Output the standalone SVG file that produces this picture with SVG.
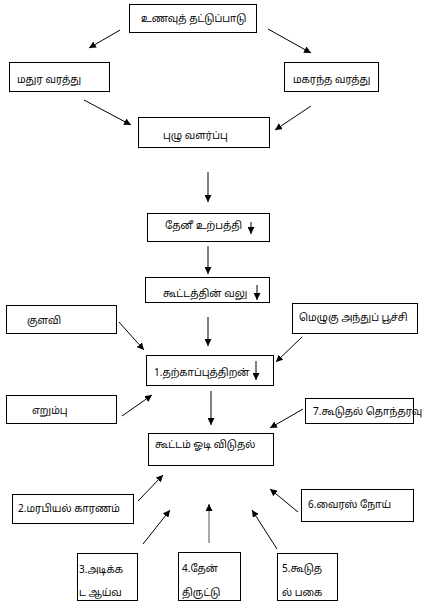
<svg xmlns="http://www.w3.org/2000/svg" width="429" height="608" viewBox="0 0 429 608">
<style>
.box{fill:#fff;stroke:#000;stroke-width:1}
.t{font-family:"Noto Sans Tamil","Latha","Lohit Tamil","Noto Sans",sans-serif;font-size:10px;fill:#000}
.c line{stroke:#000;stroke-width:1;marker-end:url(#ah)}
</style>
<defs>
<marker id="ah" viewBox="0 0 10 10" refX="10" refY="5" markerWidth="7" markerHeight="7" markerUnits="userSpaceOnUse" orient="auto">
<path d="M0,0 L10,5 L0,10 z" fill="#000"/>
</marker>
</defs>
<rect width="429" height="608" fill="#fff"/>
<g id="n1"><rect class="box" x="129.5" y="4.5" width="127" height="28"/><text class="t" x="141" y="22">உணவுத் தட்டுப்பாடு</text></g>
<g id="n2"><rect class="box" x="9.5" y="62.5" width="100" height="29"/><text class="t" x="17" y="83">மதுர வரத்து</text></g>
<g id="n3"><rect class="box" x="284.5" y="62.5" width="94" height="29"/><text class="t" x="293" y="83">மகரந்த வரத்து</text></g>
<g id="n4"><rect class="box" x="138.5" y="117.5" width="131" height="30"/><text class="t" x="163" y="139">புழு வளர்ப்பு</text></g>
<g id="n5"><rect class="box" x="147.5" y="213.5" width="122" height="28"/><text class="t" x="165" y="229">தேனீ உற்பத்தி</text></g>
<g id="n6"><rect class="box" x="145.5" y="277.5" width="124" height="25"/><text class="t" x="163" y="297">கூட்டத்தின் வலு</text></g>
<g id="n7"><rect class="box" x="6.5" y="305.5" width="110" height="28"/><text class="t" x="27" y="324">குளவி</text></g>
<g id="n8"><rect class="box" x="292.5" y="303.5" width="125" height="30"/><text class="t" x="299" y="321">மெழுகு அந்துப் பூச்சி</text></g>
<g id="n9"><rect class="box" x="146.5" y="355.5" width="127" height="30"/><text class="t" x="154" y="376">1.தற்காப்புத்திறன்</text></g>
<g id="n10"><rect class="box" x="6.5" y="395.5" width="110" height="28"/><text class="t" x="32" y="414">எறும்பு</text></g>
<g id="n11"><rect class="box" x="305.5" y="398.5" width="108" height="25"/><text class="t" x="313" y="415">7.கூடுதல் தொந்தரவு</text></g>
<g id="n12"><rect class="box" x="148.5" y="433.5" width="125" height="32"/><text class="t" x="155" y="448">கூட்டம் ஓடி விடுதல்</text></g>
<g id="n13"><rect class="box" x="12.5" y="494.5" width="121" height="29"/><text class="t" x="18" y="512">2.மரபியல் காரணம்</text></g>
<g id="n14"><rect class="box" x="301.5" y="489.5" width="112" height="32"/><text class="t" x="308" y="508">6.வைரஸ் நோய்</text></g>
<g id="n15"><rect class="box" x="77.5" y="553.5" width="60" height="47"/><text class="t" x="79" y="573">3.அடிக்க</text><text class="t" x="79" y="596">ட ஆய்வ</text></g>
<g id="n16"><rect class="box" x="178.5" y="552.5" width="62" height="48"/><text class="t" x="182" y="572">4.தேன்</text><text class="t" x="182" y="596">திருட்டு</text></g>
<g id="n17"><rect class="box" x="277.5" y="553.5" width="60" height="47"/><text class="t" x="282" y="572">5.கூடுத</text><text class="t" x="282" y="596">ல் பகை</text></g>
<g id="connectors" class="c">
<line x1="120" y1="30" x2="89" y2="48"/>
<line x1="268" y1="29" x2="311" y2="53"/>
<line x1="84" y1="100" x2="131" y2="125"/>
<line x1="311" y1="106" x2="275" y2="130"/>
<line x1="208" y1="172" x2="208" y2="202"/>
<line x1="251" y1="222" x2="251" y2="234"/>
<line x1="208" y1="246" x2="208" y2="274"/>
<line x1="257" y1="285" x2="257" y2="300"/>
<line x1="208" y1="317" x2="208" y2="346"/>
<line x1="119" y1="322" x2="144" y2="350"/>
<line x1="302" y1="337" x2="276" y2="362"/>
<line x1="256" y1="361" x2="256" y2="380"/>
<line x1="122" y1="416" x2="152" y2="395"/>
<line x1="211" y1="391" x2="211" y2="425"/>
<line x1="303" y1="409" x2="270" y2="428"/>
<line x1="138" y1="501" x2="163" y2="475"/>
<line x1="298" y1="512" x2="270" y2="489"/>
<line x1="143" y1="544" x2="170" y2="510"/>
<line x1="209" y1="543" x2="209" y2="504" style="stroke:#555"/>
<line x1="277" y1="549" x2="252" y2="510"/>
</g>
</svg>
